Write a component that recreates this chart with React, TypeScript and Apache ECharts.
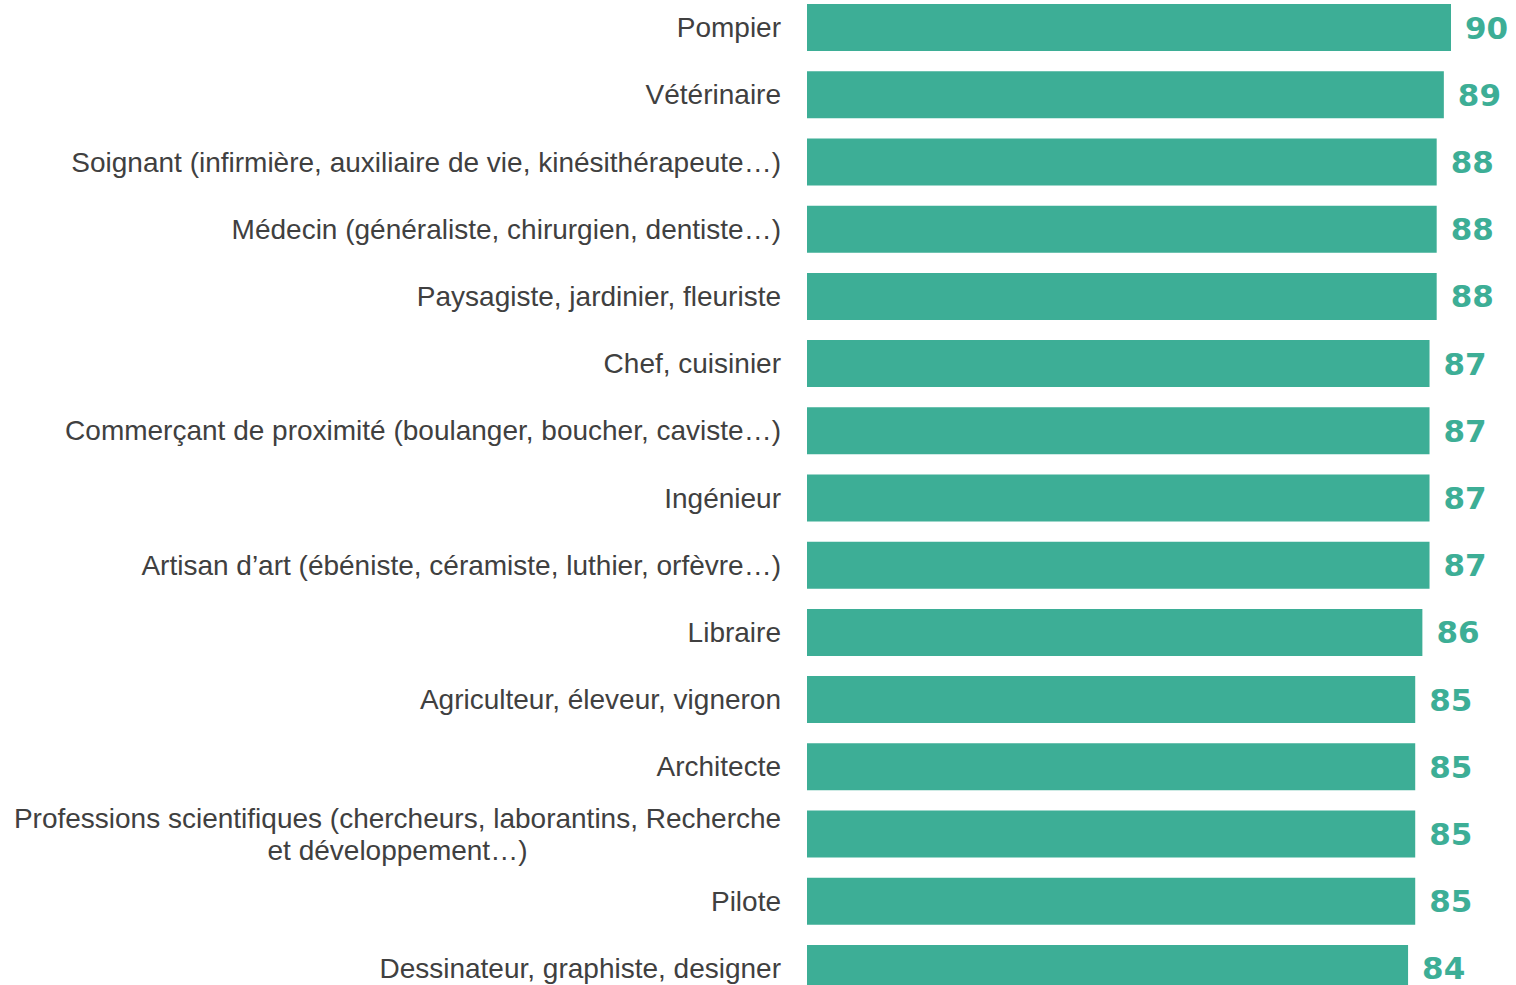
import React, { useEffect, useRef } from "react";
import * as echarts from "echarts";

const categories = [
  "Pompier",
  "Vétérinaire",
  "Soignant (infirmière, auxiliaire de vie, kinésithérapeute…)",
  "Médecin (généraliste, chirurgien, dentiste…)",
  "Paysagiste, jardinier, fleuriste",
  "Chef, cuisinier",
  "Commerçant de proximité (boulanger, boucher, caviste…)",
  "Ingénieur",
  "Artisan d’art (ébéniste, céramiste, luthier, orfèvre…)",
  "Libraire",
  "Agriculteur, éleveur, vigneron",
  "Architecte",
  "Professions scientifiques (chercheurs, laborantins, Recherche\net développement…)",
  "Pilote",
  "Dessinateur, graphiste, designer",
];

const values = [90, 89, 88, 88, 88, 87, 87, 87, 87, 86, 85, 85, 85, 85, 84];

const BAR_COLOR = "#3DAE96";
const TEXT_COLOR = "#404040";
const FONT = "'Liberation Sans', Arial, sans-serif";
const VALUE_FONT = "'DejaVu Sans', 'Liberation Sans', sans-serif";

export default function App() {
  const ref = useRef<HTMLDivElement>(null);

  useEffect(() => {
    if (!ref.current) return;
    const chart = echarts.init(ref.current, undefined, { renderer: "svg" });
    chart.setOption({
      animation: false,
      grid: { left: 807, right: 65, top: 0, bottom: 0, containLabel: false },
      xAxis: {
        type: "value",
        min: 0,
        max: 90,
        show: false,
      },
      yAxis: {
        type: "category",
        data: categories,
        inverse: true,
        axisLine: { show: false },
        axisTick: { show: false },
        splitLine: { show: false },
        axisLabel: {
          color: TEXT_COLOR,
          fontSize: 28,
          fontFamily: FONT,
          margin: 26,
          align: "right",
          lineHeight: 32,
          formatter: (v: string) => {
            if (v.indexOf("\n") >= 0) {
              return v
                .split("\n")
                .map((s) => "{c|" + s + "}")
                .join("\n");
            }
            return v;
          },
          rich: {
            c: {
              width: 767,
              align: "center",
              fontSize: 28,
              fontFamily: FONT,
              color: TEXT_COLOR,
              lineHeight: 32,
            },
          },
        },
      },
      series: [
        {
          type: "bar",
          data: values,
          barWidth: 47,
          itemStyle: { color: BAR_COLOR },
          label: {
            show: true,
            position: "right",
            distance: 14,
            color: BAR_COLOR,
            fontSize: 31,
            fontWeight: "bold",
            fontFamily: VALUE_FONT,
          },
        },
      ],
    });
    return () => chart.dispose();
  }, []);

  return (
    <div
      style={{
        position: "fixed",
        left: 0,
        top: 0,
        width: 1516,
        height: 985,
        overflow: "hidden",
        background: "#fff",
      }}
    >
      <div
        ref={ref}
        style={{ position: "absolute", left: 0, top: -6, width: 1516, height: 1008 }}
      />
    </div>
  );
}
